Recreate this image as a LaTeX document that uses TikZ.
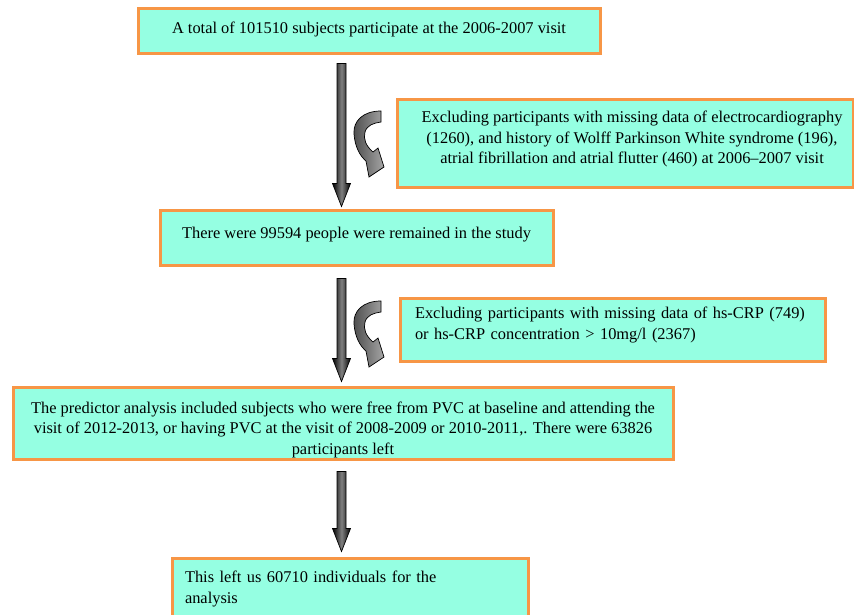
\documentclass[tikz,border=0pt]{standalone}
\usepackage{fontspec}
\setmainfont{Liberation Serif}
\usetikzlibrary{calc}
\definecolor{boxline}{HTML}{F79646}
\definecolor{boxfill}{HTML}{95FFE2}
% thick shaded arrow from one box down to the next (gap above, gap below)
\newcommand\flowarrow[4]{%
  \shade[shaft] let \p1=(axis |- #1.south), \p2=(axis |- #2.north) in
    (\x1-4.5pt,\y1-#3pt) -- (\x1+4.5pt,\y1-#3pt) -- (\x1+4.5pt,\y2+#4pt+23pt)
    -- (\x1+9pt,\y2+#4pt+23pt) -- (\x1,\y2+#4pt) -- (\x1-9pt,\y2+#4pt+23pt)
    -- (\x1-4.5pt,\y2+#4pt+23pt) -- cycle;}
% extra depth below the last line, lifts the text in its box
\newcommand\liftby[1]{\rule[-#1pt]{0pt}{#1pt}}
\begin{document}
\begin{tikzpicture}[x=1pt,y=-1pt,
  every node/.style={font=\fontsize{16.4}{20.6}\selectfont},
  box/.style={draw=boxline,fill=boxfill,line width=3pt,inner sep=0pt},
  shaft/.style={draw=black,line width=0.7pt,left color=black,right color=black,middle color=black!50},
  bent/.pic={\shade[draw=black,line width=0.7pt,left color=black!70,right color=black!35]
    (0,0) .. controls (-18,0) and (-28,10) .. (-27,23) .. controls (-26,36) and (-21,45) .. (-15,50)
    -- (-12,66) -- (3,56) -- (-3,37) -- (-8,41) .. controls (-15,35) and (-18,28) .. (-16,21)
    .. controls (-14,14) and (-7,12) .. (0,11) -- cycle;}]
  \useasboundingbox (0,0) rectangle (854,615);
  \fill[white] (0,0) rectangle (854,615);
  \coordinate (axis) at (341.5,0);

  \node[box,minimum width=462,minimum height=45,text depth=6.6] (total) at (369,31.5)
    {A total of 101510 subjects participate at the 2006-2007 visit};
  \node[box,minimum width=456,minimum height=87,text depth=12,align=center] (excl1) at (625,143.5)
    {\hspace*{14pt}Excluding participants with missing data of electrocardiography\\
     \hspace*{14pt}(1260), and history of Wolff Parkinson White syndrome (196),\\
     \hspace*{14pt}atrial fibrillation and atrial flutter (460) at 2006--2007 visit};
  \node[box,minimum width=393,minimum height=55,text depth=8.6] (remain) at (356.5,237.5)
    {There were 99594 people were remained in the study};
  \node[box,minimum width=425,minimum height=63,inner xsep=15,text width=395,align=left] (excl2) at (612.5,329.5)
    {Excluding participants with missing data of hs-CRP (749)\\
     or hs-CRP concentration > 10mg/l (2367)\liftby{13}};
  \node[box,minimum width=660,minimum height=72,text height=66,align=center] (pred) at (343,423)
    {The predictor analysis included subjects who were free from PVC at baseline and attending the\\
     visit of 2012-2013, or having PVC at the visit of 2008-2009 or 2010-2011,. There were 63826\\
     participants left};
  \node[box,minimum width=356,minimum height=67,inner xsep=13,text width=330,align=left] (final) at (350,591.5)
    {This left us 60710 individuals for the\\
     analysis\liftby{9}};

  \flowarrow{total}{remain}{8}{2}
  \flowarrow{remain}{pred}{12}{4}
  \flowarrow{pred}{final}{11}{5}
  \pic at (381,111) {bent};
  \pic at (381,301) {bent};
\end{tikzpicture}
\end{document}
